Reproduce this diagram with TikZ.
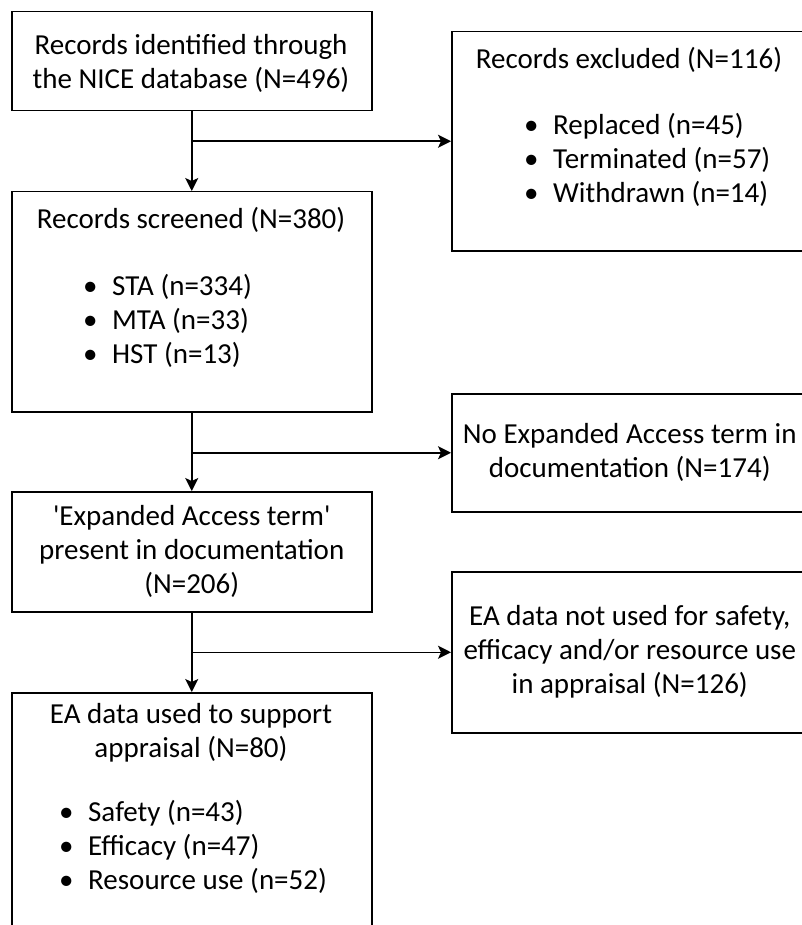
\documentclass[tikz,border=0pt]{standalone}
\usepackage{fontspec}
\setmainfont{Carlito}
\usetikzlibrary{arrows.meta,positioning}
\newcommand{\flowlist}[1]{\begin{tabular}[t]{@{}l@{}}#1\end{tabular}}
\newcommand{\flowitem}[1]{\makebox[27pt][l]{\hspace{-2pt}•}#1}
\begin{document}
\begin{tikzpicture}[x=1pt,y=-1pt,
  every node/.style={font=\fontsize{29}{34}\selectfont},
  leftbox/.style={draw,line width=1.5pt,anchor=north west,inner sep=0pt,align=center,minimum width=360pt},
  rightbox/.style={leftbox,minimum width=356pt},
  head/.style={anchor=base,inner sep=0pt,align=center},
  list/.style={anchor=base west,inner sep=0pt},
  arrow/.style={line width=1.5pt,-{Stealth[length=13pt,width=13pt,inset=3pt]}}]
\clip (0,0) rectangle (802,925);
% left column
\node[leftbox,minimum height=99pt] (ident) at (11,11) {};
\node[leftbox,minimum height=220pt] (screen) at (11,191) {};
\node[leftbox,minimum height=120pt] (present) at (11,491) {\textquotesingle Expanded Access term\textquotesingle\\present in documentation\\(N=206)};
\node[leftbox,minimum height=244pt] (used) at (11,692) {};
% right column
\node[rightbox,minimum height=219pt] (excl) at (451,31) {};
\node[rightbox,minimum height=118pt] (noterm) at (451,393) {No Expanded Access term in\\documentation (N=174)};
\node[rightbox,minimum height=161pt] (notused) at (451,571) {EA data not used for safety,\\efficacy and/or resource use\\in appraisal (N=126)};
% texts placed by their last baseline
\node[head] (identhead) at (191,89) {Records identified through\\the NICE database (N=496)};
\node[head] (exclhead) at (629,69) {Records excluded (N=116)};
\node[list] (excllist) at (526,135) {\flowlist{\flowitem{Replaced (n=45)}\\\flowitem{Terminated (n=57)}\\\flowitem{Withdrawn (n=14)}}};
\node[head] (screenhead) at (191,229) {Records screened (N=380)};
\node[list] (screenlist) at (85,295) {\flowlist{\flowitem{STA (n=334)}\\\flowitem{MTA (n=33)}\\\flowitem{HST (n=13)}}};
\node[head] (usedhead) at (191,757) {EA data used to support\\appraisal (N=80)};
\node[list] (usedlist) at (61,821) {\flowlist{\flowitem{Safety (n=43)}\\\flowitem{Efficacy (n=47)}\\\flowitem{Resource use (n=52)}}};
% connectors
\draw[arrow] (ident) -- (screen);
\draw[arrow] (ident.south |- excl.west) -- (excl.west);
\draw[arrow] (screen) -- (present);
\draw[arrow] (screen.south |- noterm.west) -- (noterm.west);
\draw[arrow] (present) -- (used);
\draw[arrow] (present.south |- notused.west) -- (notused.west);
\end{tikzpicture}
\end{document}
